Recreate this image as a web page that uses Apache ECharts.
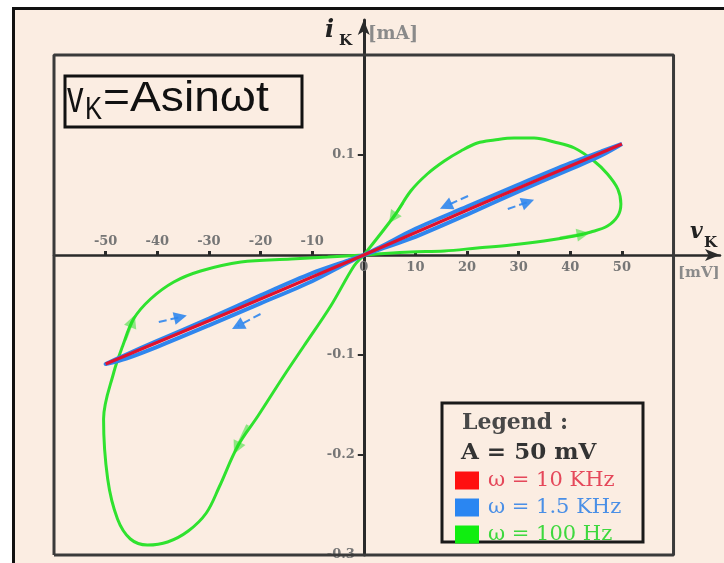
<!DOCTYPE html>
<html>
<head>
<meta charset="utf-8">
<script src="https://cdn.jsdelivr.net/npm/echarts@6/dist/echarts.min.js"></script>
<style>
  html, body { margin: 0; padding: 0; background: #fff; }
  #wrap { position: relative; width: 724px; height: 563px; overflow: hidden; background: #fff; }
  #sheet { position: absolute; left: 12px; top: 7px; width: 760px; height: 620px;
           border: 3px solid #111; background: #fbede2; }
  #chart { position: absolute; left: 0; top: 0; width: 724px; height: 563px; }
</style>
</head>
<body>
<div id="wrap"><div id="sheet"></div><div id="chart"></div></div>
<script>
// Axis ranges (v in mV, i in mA); the frame spans ±60 mV and -0.3..0.2 mA
const vRange = [-60, 69];
const iRange = [-0.3, 0.235];
const frameV = [-60, 60];
const frameI = [-0.3, 0.2];

// Tick positions and labels
const vTicks = [-50, -40, -30, -20, -10, 0, 10, 20, 30, 40, 50];
const vLabelsBelow = [0, 10, 20, 30, 40, 50];
const vLabelsAbove = [-50, -40, -30, -20, -10];
const iTicks = [0.1, -0.1, -0.2, -0.3];

// Series names (legend)
const seriesNames = ['ω = 10 KHz', 'ω = 1.5 KHz', 'ω = 100 Hz'];

// ω = 10 KHz : almost linear response
const red10k = [[-50, -0.109], [-25, -0.055], [0, 0], [25, 0.056], [50, 0.111]];

// ω = 1.5 KHz : narrow pinched loop
const blue1k5 = [
  [0, 0], [3, 0.0075], [10, 0.0262], [20, 0.0484], [30, 0.0704], [40, 0.0918], [46, 0.1035], [50, 0.111],
  [46, 0.0995], [40, 0.0858], [30, 0.0636], [20, 0.0404], [10, 0.0182], [3, 0.0055], [0, 0],
  [-3, -0.0055], [-10, -0.0182], [-20, -0.0404], [-30, -0.0636], [-40, -0.0858], [-46, -0.0995], [-50, -0.109],
  [-46, -0.1035], [-40, -0.0918], [-30, -0.0704], [-20, -0.0484], [-10, -0.0262], [-3, -0.0075], [0, 0]
];

// ω = 100 Hz : wide pinched loop (figure eight through the origin)
const green100 = [
  [0, 0], [2.6, 0.001], [9.1, 0.003], [15.6, 0.004], [22.0, 0.007], [28.5, 0.010], [34.9, 0.014],
  [40.8, 0.019], [44.0, 0.023], [47.2, 0.029], [49.2, 0.039], [49.8, 0.051], [49.2, 0.066],
  [47.2, 0.081], [44.6, 0.094], [40.8, 0.107], [36.9, 0.113], [33.0, 0.117], [29.1, 0.117],
  [25.3, 0.115], [22.0, 0.112], [18.8, 0.104], [15.6, 0.094], [12.3, 0.081], [9.1, 0.064],
  [5.9, 0.039], [0, 0],
  [-1.9, -0.011], [-6.4, -0.051], [-11.6, -0.091], [-15.5, -0.121], [-20.5, -0.161], [-24.4, -0.191],
  [-28.0, -0.232], [-30.5, -0.258], [-34.0, -0.276], [-38.0, -0.287], [-41.9, -0.290], [-45.2, -0.284],
  [-47.7, -0.264], [-49.6, -0.224], [-50.4, -0.164], [-48.4, -0.117], [-46.7, -0.091], [-44.6, -0.064],
  [-41.3, -0.044], [-36.8, -0.027], [-31.6, -0.016], [-23.8, -0.007], [-14.1, -0.004], [-7.0, -0.002], [0, 0]
];

// Direction arrows: [from, to]
const blueArrows = [
  [[20.2, 0.059], [15.9, 0.049]],
  [[27.9, 0.046], [31.8, 0.053]],
  [[-39.7, -0.067], [-35.5, -0.062]],
  [[-20.0, -0.059], [-24.4, -0.071]]
];
const greenArrows = [
  [[7.6, 0.052], [5.6, 0.037]],
  [[38.0, 0.017], [42.5, 0.021]],
  [[-46.2, -0.085], [-44.8, -0.066]],
  [[-22.5, -0.170], [-24.6, -0.193]]
];

const PEACH = '#fbede2';
const tickFont = { color: '#767676', fontFamily: 'DejaVu Serif', fontSize: 13, fontWeight: 'bold' };

// Plot area in pixels; the axes are shifted onto the zero lines of the scales
const G = { left: 54, right: 4, top: 20, bottom: 8, width: 724 - 54 - 4, height: 563 - 20 - 8 };
const zeroX = G.width * (0 - vRange[0]) / (vRange[1] - vRange[0]);          // from plot left
const zeroY = G.height * (iRange[1] - 0) / (iRange[1] - iRange[0]);         // from plot top

const chart = echarts.init(document.getElementById('chart'), null, { renderer: 'canvas' });

const frameLoop = [
  [frameV[0], frameI[0]], [frameV[1], frameI[0]], [frameV[1], frameI[1]],
  [frameV[0], frameI[1]], [frameV[0], frameI[0]]
];

const option = {
  animation: false,
  backgroundColor: 'transparent',
  grid: { left: G.left, right: G.right, top: G.top, bottom: G.bottom, containLabel: false, outerBoundsMode: 'none' },
  xAxis: [
    {
      type: 'value', min: vRange[0], max: vRange[1], position: 'bottom', offset: -(G.height - zeroY),
      axisLine: { onZero: false, symbol: ['none', 'arrow'], symbolSize: [9, 15],
                  lineStyle: { color: '#2a2a2a', width: 2.5 } },
      axisTick: { show: true, inside: true, length: 4, customValues: vTicks,
                  lineStyle: { color: '#2a2a2a', width: 3 } },
      axisLabel: Object.assign({ customValues: vLabelsBelow, margin: 6 }, tickFont),
      splitLine: { show: false }
    },
    {
      type: 'value', min: vRange[0], max: vRange[1], position: 'top', offset: -zeroY,
      axisLine: { show: false, onZero: false },
      axisTick: { show: false },
      axisLabel: Object.assign({ customValues: vLabelsAbove, margin: 7 }, tickFont),
      splitLine: { show: false }
    }
  ],
  yAxis: {
    type: 'value', min: iRange[0], max: iRange[1], position: 'left', offset: -zeroX,
    axisLine: { onZero: false, symbol: ['none', 'arrow'], symbolSize: [9, 15],
                lineStyle: { color: '#2a2a2a', width: 3 } },
    axisTick: { show: true, length: 6, customValues: iTicks, lineStyle: { color: '#2a2a2a', width: 2 } },
    axisLabel: Object.assign({ customValues: iTicks, margin: 9 }, tickFont),
    splitLine: { show: false }
  },
  legend: {
    orient: 'vertical', left: 455, top: 470, padding: 0, itemWidth: 24, itemHeight: 18, itemGap: 6,
    icon: 'rect', selectedMode: false,
    textStyle: { fontFamily: 'DejaVu Serif', fontSize: 21, lineHeight: 18, padding: [0, 0, 0, 4] },
    data: [
      { name: seriesNames[0], itemStyle: { color: '#ff1010', borderWidth: 0 }, textStyle: { color: '#e5485a' } },
      { name: seriesNames[1], itemStyle: { color: '#2a86f2', borderWidth: 0 }, textStyle: { color: '#4a8fe6' } },
      { name: seriesNames[2], itemStyle: { color: '#10ee10', borderWidth: 0 }, textStyle: { color: '#3ed83e' } }
    ]
  },
  graphic: [
    // equation box
    { type: 'rect', z: 0, shape: { x: 65, y: 76, width: 237, height: 51 },
      style: { fill: PEACH, stroke: '#111', lineWidth: 3 } },
    { type: 'text', z: 1, x: 67, y: 100, scaleX: 0.75, style: { text: 'v', font: '44px "Liberation Sans"', fill: '#111', verticalAlign: 'middle' } },
    { type: 'text', z: 1, x: 85, y: 110, scaleX: 0.8, style: { text: 'K', font: '32px "Liberation Sans"', fill: '#111', verticalAlign: 'middle' } },
    { type: 'text', z: 1, x: 103, y: 99, scaleX: 1.1, style: { text: '=Asinωt', font: '42px "Liberation Sans"', fill: '#111', verticalAlign: 'middle' } },
    // legend box and heading
    { type: 'rect', z: 0, shape: { x: 442, y: 403, width: 201, height: 139 },
      style: { fill: PEACH, stroke: '#1a1a1a', lineWidth: 3 } },
    { type: 'text', z: 1, x: 462, y: 423, style: { text: 'Legend :', font: 'bold 22px "DejaVu Serif"', fill: '#484848', verticalAlign: 'middle' } },
    { type: 'text', z: 1, x: 461, y: 453, style: { text: 'A = 50 mV', font: 'bold 23px "DejaVu Serif"', fill: '#333', verticalAlign: 'middle' } },
    // axis names
    { type: 'text', z: 1, x: 325, y: 31, style: { text: 'i', font: 'italic bold 24px "DejaVu Serif"', fill: '#222', verticalAlign: 'middle' } },
    { type: 'text', z: 1, x: 339, y: 41, style: { text: 'K', font: 'bold 15px "DejaVu Serif"', fill: '#222', verticalAlign: 'middle' } },
    { type: 'text', z: 1, x: 368, y: 34, style: { text: '[mA]', font: 'bold 18px "DejaVu Serif"', fill: '#8a8a8a', verticalAlign: 'middle' } },
    { type: 'text', z: 1, x: 690, y: 232, style: { text: 'v', font: 'italic bold 22px "DejaVu Serif"', fill: '#222', verticalAlign: 'middle' } },
    { type: 'text', z: 1, x: 704, y: 243, style: { text: 'K', font: 'bold 15px "DejaVu Serif"', fill: '#222', verticalAlign: 'middle' } },
    { type: 'text', z: 1, x: 678, y: 273, style: { text: '[mV]', font: 'bold 15px "DejaVu Serif"', fill: '#8a8a8a', verticalAlign: 'middle' } }
  ],
  series: [
    { name: 'frame', type: 'line', data: frameLoop, symbol: 'none', silent: true, clip: false, z: 1,
      lineStyle: { color: '#3a3a3a', width: 3 } },
    { name: seriesNames[2], type: 'line', data: green100, smooth: 0.35, symbol: 'none', z: 2,
      lineStyle: { color: '#2fe22f', width: 3 }, itemStyle: { color: '#10ee10' } },
    { name: seriesNames[1], type: 'line', data: blue1k5, smooth: 0.3, symbol: 'none', z: 3,
      lineStyle: { color: '#2f86ee', width: 4 }, itemStyle: { color: '#2a86f2' } },
    { name: seriesNames[0], type: 'line', data: red10k, symbol: 'none', z: 4,
      lineStyle: { color: '#e0122e', width: 3 }, itemStyle: { color: '#ff1010' } },
    { type: 'lines', coordinateSystem: 'cartesian2d', z: 5, silent: true,
      data: blueArrows.map(c => ({ coords: c })),
      symbol: ['none', 'triangle'], symbolSize: [15, 13],
      lineStyle: { color: '#2f86ee', type: 'dashed', width: 2, opacity: 0.9 } },
    { type: 'lines', coordinateSystem: 'cartesian2d', z: 5, silent: true,
      data: greenArrows.map(c => ({ coords: c })),
      symbol: ['none', 'triangle'], symbolSize: [13, 13],
      lineStyle: { color: '#22e022', width: 3 } }
  ]
};

chart.setOption(option);
</script>
</body>
</html>
